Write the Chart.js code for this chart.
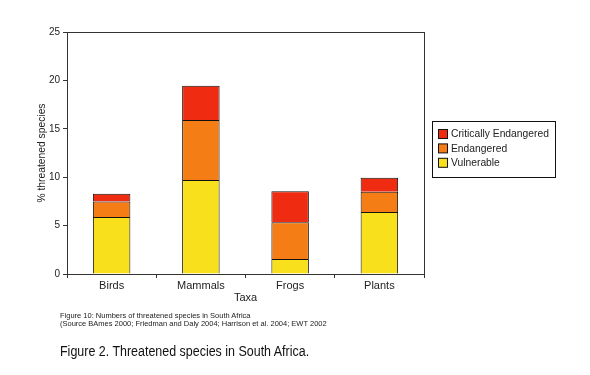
<!DOCTYPE html>
<html><head><meta charset="utf-8">
<script src="https://cdn.jsdelivr.net/npm/chart.js@4/dist/chart.umd.min.js"></script>
<style>
html,body{margin:0;padding:0;background:#fff;}
#wrap{position:relative;width:590px;height:375px;overflow:hidden;font-family:"Liberation Sans",Arial,sans-serif;}
canvas{position:absolute;left:0;top:0;}
.note{position:absolute;left:60px;font-size:7.5px;color:#222;line-height:8px;white-space:nowrap;}
.cap{position:absolute;left:60px;top:343px;font-size:14px;color:#111;white-space:nowrap;transform:scaleX(0.89);transform-origin:0 0;}
</style></head>
<body><div id="wrap"><canvas id="c" width="590" height="375"></canvas>
<div class="note" style="top:312px">Figure 10: Numbers of threatened species in South Africa</div>
<div class="note" style="top:320px">(Source BAmes 2000; Friedman and Daly 2004; Harrison et al. 2004; EWT 2002</div>
<div class="cap">Figure 2. Threatened species in South Africa.</div>
</div>
<script>
const categories = ["Birds", "Mammals", "Frogs", "Plants"];
const vulnerable = [5.9, 9.7, 1.55, 6.4];
const endangered = [1.6, 6.2, 3.8, 2.1];
const critical = [0.8, 3.55, 3.2, 1.45];
const seriesNames = ["Vulnerable", "Endangered", "Critically Endangered"];
const yTicks = [0, 5, 10, 15, 20, 25];

const colors = ["#f9e01c", "#f57d16", "#ef2c12"];
const FONT = "'Liberation Sans', Arial, sans-serif";

const frame = {
  id: 'frame',
  afterDraw(chart) {
    const {ctx, chartArea: a} = chart;
    ctx.save();
    ctx.strokeStyle = '#333';
    ctx.lineWidth = 1;
    ctx.strokeRect(Math.round(a.left) + 0.5, Math.round(a.top) + 0.5, Math.round(a.right - a.left), Math.round(a.bottom - a.top));
    // legend
    const lx = 432.5, ly = 121.5, lw = 123, lh = 56;
    ctx.fillStyle = '#fff';
    ctx.fillRect(lx, ly, lw, lh);
    ctx.strokeStyle = '#111';
    ctx.strokeRect(lx, ly, lw, lh);
    ctx.font = '10.3px ' + FONT;
    ctx.textBaseline = 'middle';
    const ds = chart.data.datasets;
    for (let i = 0; i < ds.length; i++) {
      const d = ds[ds.length - 1 - i];
      const y = 134.5 + i * 14.4;
      ctx.fillStyle = d.backgroundColor;
      ctx.fillRect(438.5, y - 5, 9, 9);
      ctx.strokeStyle = '#111';
      ctx.strokeRect(438.5, y - 5, 9, 9);
      ctx.fillStyle = '#222';
      ctx.fillText(d.label, 451, y);
    }
    ctx.restore();
  }
};

new Chart(document.getElementById('c'), {
  type: 'bar',
  data: {
    labels: categories,
    datasets: [
      {label: seriesNames[0], data: vulnerable, backgroundColor: colors[0]},
      {label: seriesNames[1], data: endangered, backgroundColor: colors[1]},
      {label: seriesNames[2], data: critical, backgroundColor: colors[2]}
    ].map(d => Object.assign(d, {borderColor: '#111', borderWidth: {top: 1, left: 1, right: 1, bottom: 0}, borderSkipped: false, categoryPercentage: 1, barPercentage: 0.42}))
  },
  options: {
    responsive: false,
    animation: false,
    devicePixelRatio: 1,
    layout: {padding: {left: 36, top: 32, right: 166, bottom: 70}},
    plugins: {legend: {display: false}, tooltip: {enabled: false}},
    scales: {
      x: {
        stacked: true,
        afterFit: s => { s.height = 31; },
        grid: {display: true, drawOnChartArea: false, drawTicks: true, tickLength: 4, color: '#333', offset: true},
        border: {display: true, color: '#333'},
        ticks: {color: '#222', font: {family: FONT, size: 11}, padding: 1},
        title: {display: true, text: 'Taxa', color: '#222', font: {family: FONT, size: 11}, padding: {top: 0, bottom: 0}}
      },
      y: {
        stacked: true,
        min: 0, max: 25,
        afterFit: s => { s.width = 31; },
        afterBuildTicks: s => { s.ticks = yTicks.map(v => ({value: v})); },
        grid: {display: true, drawOnChartArea: false, drawTicks: true, tickLength: 4, color: '#333'},
        border: {display: true, color: '#333'},
        ticks: {color: '#222', font: {family: FONT, size: 10}, padding: 3},
        title: {display: true, text: '% threatened species', color: '#222', font: {family: FONT, size: 10.3}, padding: {top: 0, bottom: 0}}
      }
    }
  },
  plugins: [frame]
});
</script></body></html>
